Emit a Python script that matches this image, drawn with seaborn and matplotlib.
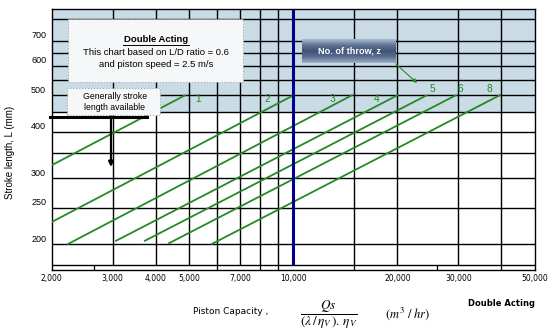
import numpy as np
import pandas as pd
import matplotlib
matplotlib.use("Agg")
import matplotlib.pyplot as plt
import matplotlib.transforms as mtransforms
from matplotlib.patches import Rectangle
from matplotlib.lines import Line2D
from matplotlib.colors import LinearSegmentedColormap
import seaborn as sns

# ---- data ----
throws = ["1", "2", "3", "4", "5", "6", "8"]
q_start = [2000, 2000, 2230, 3070, 3720, 4370, 5810]
l_start = [325, 229, 200, 204, 204, 201, 200]
q_end = [4860, 10000, 14760, 20000, 24300, 29500, 39500]
l_end = [500, 500, 500, 500, 500, 500, 500]
label_q = [5290, 8380, 13000, 17400, 25200, 30500, 37000]
label_l = [490, 490, 490, 490, 520, 520, 520]

x_ticks = [2000, 3000, 4000, 5000, 7000, 10000, 20000, 30000, 50000]
x_tick_labels = ["2,000", "3,000", "4,000", "5,000", "7,000", "10,000", "20,000", "30,000", "50,000"]
x_grid = [3000, 4000, 5000, 6000, 7000, 8000, 9000, 15000, 20000, 30000, 40000]
x_minor = [2000, 2650, 4000, 5000, 6000, 8000, 9000, 15000, 26000, 40000, 50000]
y_ticks = [200, 250, 300, 400, 500, 600, 700]
y_grid = [200, 250, 300, 350, 400, 450, 500, 550, 600, 650, 700, 800]
ref_capacity = 10000
shade_from = 450

GREEN = "#248a24"
W, H = 554, 336

def fx(px):
    return px / W

def fy(py):
    return 1 - py / H

rows = []
for z, qs, ls, qe, le in zip(throws, q_start, l_start, q_end, l_end):
    rows.append({"z": z, "Q": qs, "L": ls})
    rows.append({"z": z, "Q": qe, "L": le})
df = pd.DataFrame(rows)

fig = plt.figure(figsize=(W / 100, H / 100), dpi=100)
ax = fig.add_axes([fx(51.7), fy(270), (535 - 51.7) / W, (270 - 9) / H])

ymin_axis, ymin_frame, ymax = 170.4, 175.7, 851
xmin, xmax = 2000, 50000

ax.set_xscale("log")
ax.set_yscale("log")
ax.set_xlim(xmin, xmax)
ax.set_ylim(ymin_axis, ymax)

# shading and grid
ax.add_patch(Rectangle((xmin, shade_from), xmax - xmin, ymax - shade_from,
                       facecolor="#c9dce6", edgecolor="none", zorder=0))
ax.vlines(x_grid, ymin_frame, ymax, colors="black", lw=1.0, zorder=1)
ax.hlines(y_grid + [ymin_frame], xmin, xmax, colors="black", lw=1.0, zorder=1)

sns.lineplot(data=df, x="Q", y="L", hue="z", palette=[GREEN] * len(throws),
             units="z", estimator=None, sort=False, legend=False, lw=1.3,
             ax=ax, zorder=3)

ax.vlines([ref_capacity], ymin_frame, ymax, colors="#00008b", lw=2.2, zorder=4)

for z, q, l in zip(throws, label_q, label_l):
    ax.text(q, l, z, color=GREEN, fontsize=7.3, ha="center", va="center",
            family="Liberation Sans", zorder=5)

# axes formatting
ax.set_xticks(x_ticks)
ax.set_xticklabels(x_tick_labels, fontsize=5.5, family="DejaVu Sans")
ax.set_xticks(x_minor, minor=True)
ax.set_xticklabels([], minor=True)
ax.tick_params(axis="x", which="major", length=0, pad=3)
ax.tick_params(axis="x", which="minor", direction="in", length=3.6, width=0.9)
ax.set_yticks(y_ticks)
ax.set_yticklabels([str(v) for v in y_ticks], fontsize=6.5, family="Liberation Sans")
ax.yaxis.set_minor_locator(matplotlib.ticker.NullLocator())
ax.tick_params(axis="y", which="major", length=0, pad=4)
off = mtransforms.ScaledTranslation(0, 6 / 100, fig.dpi_scale_trans)
for lab in ax.get_yticklabels():
    lab.set_transform(lab.get_transform() + off)
ax.set_xlabel("")
ax.set_ylabel("")
for s in ax.spines.values():
    s.set_color("black")
    s.set_linewidth(1.0)

# y-axis label
fig.text(fx(10), fy(152), "Stroke length, L (mm)", rotation=90, ha="center",
         va="center", fontsize=7, family="Liberation Sans")

# x-axis label pieces
fig.text(fx(193), fy(312), "Piston Capacity ,", ha="left", va="center",
         fontsize=6.5, family="DejaVu Sans")
fig.text(fx(329), fy(315), r"$\dfrac{Qs}{(\lambda\,/\,\eta_V\,).\,\eta_V}$",
         ha="center", va="center", fontsize=9.5, math_fontfamily="stix")
fig.text(fx(408), fy(314), r"$(m^3\ /\ hr)$", ha="center", va="center",
         fontsize=9, math_fontfamily="stix")
fig.text(fx(501), fy(303), "Double Acting", ha="center", va="center",
         fontsize=6, weight="bold", family="DejaVu Sans")

# Double Acting note box
fig.add_artist(Rectangle((fx(68), fy(82)), (243 - 68) / W, (82 - 19) / H,
                         transform=fig.transFigure, facecolor="#f6f7f8",
                         edgecolor="#a8a8a8", lw=0.8, ls=":", zorder=6))
fig.text(fx(156), fy(40), "Double Acting", ha="center", va="center", fontsize=6.8,
         weight="bold", family="Liberation Sans", zorder=7)
fig.add_artist(Line2D([fx(123), fx(189)], [fy(45), fy(45)], transform=fig.transFigure,
                      color="black", lw=0.7, zorder=7))
fig.text(fx(156), fy(52.5), "This chart based on L/D ratio = 0.6", ha="center",
         va="center", fontsize=6.8, family="Liberation Sans", zorder=7)
fig.text(fx(156), fy(64.5), "and piston speed = 2.5 m/s", ha="center",
         va="center", fontsize=6.8, family="Liberation Sans", zorder=7)

# Generally stroke length box
fig.add_artist(Rectangle((fx(67), fy(115)), (160 - 67) / W, (115 - 88) / H,
                         transform=fig.transFigure, facecolor="#f6f7f8",
                         edgecolor="#a8a8a8", lw=0.8, ls=":", zorder=6))
fig.text(fx(115), fy(96.5), "Generally stroke", ha="center", va="center",
         fontsize=6.3, family="Liberation Sans", zorder=7)
fig.text(fx(115), fy(108), "length available", ha="center", va="center",
         fontsize=6.3, family="Liberation Sans", zorder=7)
fig.add_artist(Line2D([fx(50), fx(147)], [fy(117), fy(117)], transform=fig.transFigure,
                      color="black", lw=2.2, zorder=7))
ax.annotate("", xy=(fx(111), fy(167)), xytext=(fx(111), fy(116)),
            xycoords="figure fraction", textcoords="figure fraction",
            arrowprops=dict(arrowstyle="-|>", color="black", lw=1.6,
                            mutation_scale=7, shrinkA=0, shrinkB=0), zorder=7)

# No. of throw box (gradient)
gax = fig.add_axes([fx(302), fy(63), (396 - 302) / W, (63 - 39) / H], zorder=8)
cmap = LinearSegmentedColormap.from_list(
    "g", ["#a9b9cd", "#607393", "#3f5377", "#5b6e90", "#9eafc6"])
gax.imshow(np.linspace(0, 1, 64).reshape(-1, 1), aspect="auto", cmap=cmap,
           extent=(0, 1, 0, 1), origin="upper")
gax.set_axis_off()
gax.text(0.5, 0.5, "No. of throw, z", ha="center", va="center", color="white",
         fontsize=6.6, weight="bold", family="Liberation Sans",
         transform=gax.transAxes)
ax.annotate("", xy=(fx(417), fy(83)), xytext=(fx(396), fy(64)),
            xycoords="figure fraction", textcoords="figure fraction",
            arrowprops=dict(arrowstyle="-|>", color=GREEN, lw=0.8,
                            mutation_scale=6, shrinkA=0, shrinkB=0), zorder=7)

fig.savefig("out.png", dpi=100)
